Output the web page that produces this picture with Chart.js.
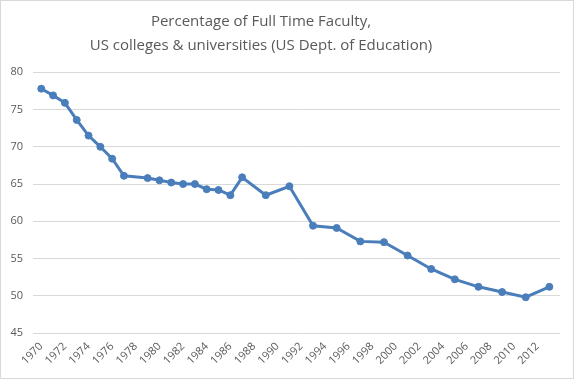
<!DOCTYPE html>
<html>
<head>
<meta charset="utf-8">
<script src="https://cdn.jsdelivr.net/npm/chart.js@4"></script>
<style>
  html, body { margin: 0; padding: 0; background: #fff; }
  #wrap { width: 574px; height: 379px; border: 1px solid #d9d9d9; box-sizing: border-box; position: relative; }
</style>
</head>
<body>
<div id="wrap"><canvas id="chart"></canvas></div>
<script>
const titleLines = ["Percentage of Full Time Faculty,", "US colleges & universities (US Dept. of Education)"];

const years = [1970, 1971, 1972, 1973, 1974, 1975, 1976, 1977, 1979, 1980, 1981, 1982, 1983, 1984, 1985,
  1986, 1987, 1989, 1991, 1993, 1995, 1997, 1999, 2001, 2003, 2005, 2007, 2009, 2011, 2013];
const fullTimePct = [77.8, 76.9, 75.9, 73.6, 71.5, 70.0, 68.4, 66.1, 65.8, 65.5, 65.2, 65.0, 65.0, 64.3, 64.2,
  63.5, 65.9, 63.5, 64.7, 59.4, 59.1, 57.3, 57.2, 55.4, 53.6, 52.2, 51.2, 50.5, 49.8, 51.2];

const xTickYears = [];
for (let y = 1970; y <= 2012; y += 2) xTickYears.push(y);
const yTicks = [45, 50, 55, 60, 65, 70, 75, 80];

const textColor = '#595959';
const lineColor = '#4a7ebb';

// title is centred a bit left of the canvas middle, like the original
const titlePlugin = {
  id: 'offsetTitle',
  afterDraw(chart) {
    const ctx = chart.ctx;
    ctx.save();
    ctx.fillStyle = textColor;
    ctx.font = "15px 'Open Sans', sans-serif";
    ctx.textAlign = 'center';
    ctx.textBaseline = 'middle';
    titleLines.forEach((line, i) => ctx.fillText(line, 260, 21 + i * 24));
    ctx.restore();
  }
};

new Chart(document.getElementById('chart').getContext('2d'), {
  type: 'line',
  data: {
    datasets: [{
      label: 'Full Time Faculty %',
      data: years.map((y, i) => ({ x: y, y: fullTimePct[i] })),
      borderColor: lineColor,
      backgroundColor: lineColor,
      borderWidth: 3,
      pointRadius: 3.5,
      pointBorderWidth: 1,
      pointBorderColor: lineColor,
      pointBackgroundColor: lineColor,
      tension: 0
    }]
  },
  plugins: [titlePlugin],
  options: {
    responsive: true,
    maintainAspectRatio: false,
    animation: false,
    layout: { padding: { left: 0, right: 13, top: 71.3, bottom: 0 } },
    plugins: {
      legend: { display: false },
      tooltip: { enabled: false },
      title: { display: false }
    },
    scales: {
      x: {
        type: 'linear',
        min: 1969.3,
        max: 2013.9,
        afterBuildTicks: scale => { scale.ticks = xTickYears.map(v => ({ value: v })); },
        afterFit: scale => { scale.height = 45; },
        grid: { display: false, drawTicks: false },
        border: { display: false },
        ticks: {
          color: textColor,
          font: { family: "'Open Sans', sans-serif", size: 11 },
          minRotation: 45,
          maxRotation: 45,
          autoSkip: false,
          padding: 7,
          callback: v => String(v)
        }
      },
      y: {
        min: 45,
        max: 80,
        afterBuildTicks: scale => { scale.ticks = yTicks.map(v => ({ value: v })); },
        afterFit: scale => { scale.width = 32; },
        grid: { color: '#d9d9d9', lineWidth: 1, drawTicks: false },
        border: { display: false },
        ticks: {
          color: textColor,
          font: { family: "'Open Sans', sans-serif", size: 11 },
          padding: 10
        }
      }
    }
  }
});
</script>
</body>
</html>
